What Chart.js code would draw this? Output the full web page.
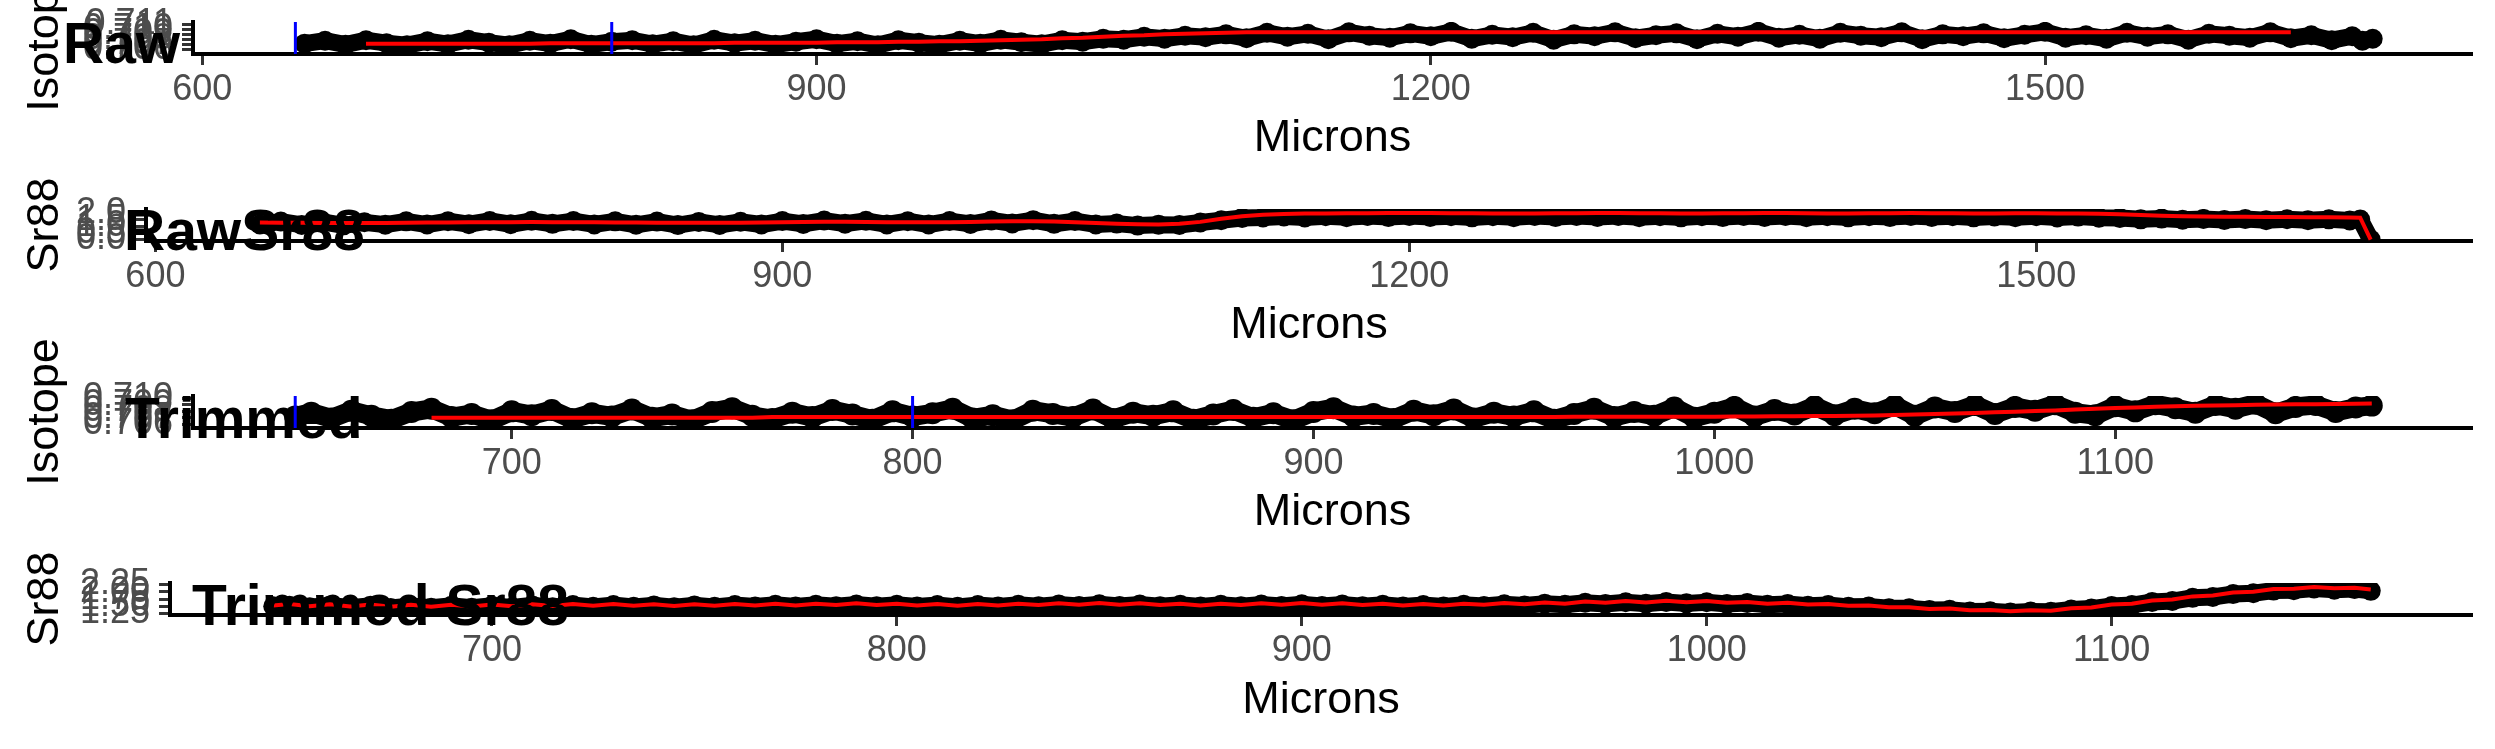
<!DOCTYPE html>
<html>
<head>
<meta charset="utf-8">
<script src="https://cdn.jsdelivr.net/npm/chart.js@4.4.1/dist/chart.umd.min.js"></script>
<style>
  html, body { margin: 0; padding: 0; background: #fff; overflow: hidden; }
  #stack { position: relative; width: 2495px; height: 749px; overflow: hidden; }
  #stack canvas { position: absolute; left: 0; display: block; }
</style>
</head>
<body>
<div id="stack">
  <canvas id="raw"></canvas>
  <canvas id="rawSr"></canvas>
  <canvas id="trim"></canvas>
  <canvas id="trimSr"></canvas>
</div>
<script>
// --- raw transect (microns) ---
const RAW_MICRONS = [
    650, 660, 670, 680, 690, 700, 710, 720, 730, 740,
    750, 760, 770, 780, 790, 800, 810, 820, 830, 840,
    850, 860, 870, 880, 890, 900, 910, 920, 930, 940,
    950, 960, 970, 980, 990, 1000, 1010, 1020, 1030, 1040,
    1050, 1060, 1070, 1080, 1090, 1100, 1110, 1120, 1130, 1140,
    1150, 1160, 1170, 1180, 1190, 1200, 1210, 1220, 1230, 1240,
    1250, 1260, 1270, 1280, 1290, 1300, 1310, 1320, 1330, 1340,
    1350, 1360, 1370, 1380, 1390, 1400, 1410, 1420, 1430, 1440,
    1450, 1460, 1470, 1480, 1490, 1500, 1510, 1520, 1530, 1540,
    1550, 1560, 1570, 1580, 1590, 1600, 1610, 1620, 1630, 1640,
    1650, 1655, 1660
];

const RAW_ISOTOPE = [
    0.7071, 0.7077, 0.7069, 0.7078, 0.7072, 0.7068, 0.7076, 0.7070, 0.7079, 0.7073,
    0.7068, 0.7077, 0.7071, 0.7080, 0.7069, 0.7075, 0.7078, 0.7070, 0.7076, 0.7068,
    0.7079, 0.7072, 0.7077, 0.7069, 0.7075, 0.7080, 0.7071, 0.7076, 0.7068, 0.7078,
    0.7073, 0.7069, 0.7077, 0.7071, 0.7079, 0.7074, 0.7070, 0.7078, 0.7075, 0.7081,
    0.7079, 0.7085, 0.7081, 0.7087, 0.7084, 0.7090, 0.7082, 0.7093, 0.7085, 0.7091,
    0.7080, 0.7094, 0.7087, 0.7083, 0.7092, 0.7086, 0.7095, 0.7081, 0.7089, 0.7084,
    0.7093, 0.7079, 0.7090, 0.7086, 0.7094, 0.7082, 0.7088, 0.7092, 0.7080, 0.7091,
    0.7085, 0.7095, 0.7083, 0.7089, 0.7081, 0.7093, 0.7087, 0.7084, 0.7094, 0.7080,
    0.7090, 0.7086, 0.7092, 0.7082, 0.7089, 0.7095, 0.7083, 0.7088, 0.7081, 0.7093,
    0.7085, 0.7090, 0.7079, 0.7091, 0.7087, 0.7083, 0.7094, 0.7082, 0.7088, 0.7078,
    0.7086, 0.7077, 0.7081
];

const RAW_ISOTOPE_FIT = [
    null, null, null, 0.7071, 0.7071, 0.7071, 0.7071, 0.7071, 0.7071, 0.7071,
    0.7071, 0.7071, 0.7072, 0.7072, 0.7072, 0.7072, 0.7072, 0.7072, 0.7072, 0.7072,
    0.7072, 0.7073, 0.7073, 0.7073, 0.7073, 0.7073, 0.7074, 0.7074, 0.7074, 0.7075,
    0.7075, 0.7076, 0.7076, 0.7077, 0.7078, 0.7079, 0.7080, 0.7082, 0.7083, 0.7085,
    0.7087, 0.7088, 0.7090, 0.7091, 0.7092, 0.7093, 0.7094, 0.7094, 0.7094, 0.7094,
    0.7094, 0.7094, 0.7094, 0.7094, 0.7094, 0.7094, 0.7094, 0.7094, 0.7094, 0.7094,
    0.7094, 0.7094, 0.7094, 0.7094, 0.7094, 0.7094, 0.7094, 0.7094, 0.7094, 0.7094,
    0.7094, 0.7094, 0.7094, 0.7094, 0.7094, 0.7094, 0.7094, 0.7094, 0.7094, 0.7094,
    0.7094, 0.7094, 0.7094, 0.7094, 0.7094, 0.7094, 0.7094, 0.7094, 0.7094, 0.7094,
    0.7094, 0.7094, 0.7094, 0.7094, 0.7094, 0.7094, 0.7094, 0.7094, null, null,
    null, null, null
];

const RAW_SR88 = [
    1.14, 1.36, 1.10, 1.33, 1.07, 1.30, 1.12, 1.37, 1.13, 1.38,
    1.16, 1.40, 1.15, 1.41, 1.18, 1.39, 1.14, 1.37, 1.11, 1.35,
    1.09, 1.33, 1.10, 1.34, 1.13, 1.39, 1.17, 1.43, 1.19, 1.41,
    1.14, 1.38, 1.13, 1.39, 1.17, 1.44, 1.21, 1.46, 1.18, 1.39,
    1.14, 1.20, 1.05, 1.12, 1.10, 1.28, 1.45, 1.62, 1.66, 1.74,
    1.66, 1.76, 1.68, 1.77, 1.69, 1.78, 1.70, 1.76, 1.67, 1.75,
    1.68, 1.77, 1.69, 1.78, 1.70, 1.77, 1.68, 1.76, 1.67, 1.75,
    1.69, 1.78, 1.70, 1.77, 1.68, 1.75, 1.67, 1.76, 1.69, 1.78,
    1.70, 1.76, 1.67, 1.74, 1.68, 1.76, 1.66, 1.73, 1.65, 1.62,
    1.52, 1.58, 1.49, 1.55, 1.47, 1.54, 1.46, 1.53, 1.45, 1.52,
    1.44, 1.50, 0.00
];

const RAW_SR88_FIT = [
    1.28, 1.27, 1.26, 1.25, 1.24, 1.24, 1.25, 1.26, 1.28, 1.29,
    1.30, 1.31, 1.31, 1.32, 1.31, 1.31, 1.30, 1.29, 1.28, 1.27,
    1.26, 1.26, 1.26, 1.27, 1.29, 1.31, 1.33, 1.34, 1.34, 1.33,
    1.31, 1.30, 1.30, 1.31, 1.33, 1.35, 1.37, 1.37, 1.35, 1.31,
    1.25, 1.19, 1.15, 1.14, 1.19, 1.33, 1.56, 1.76, 1.87, 1.93,
    1.96, 1.97, 1.98, 1.98, 1.99, 1.99, 1.99, 1.98, 1.98, 1.97,
    1.97, 1.97, 1.98, 1.98, 1.99, 1.99, 1.98, 1.98, 1.97, 1.97,
    1.98, 1.98, 1.99, 1.99, 1.98, 1.97, 1.97, 1.98, 1.98, 1.99,
    1.98, 1.98, 1.97, 1.97, 1.98, 1.98, 1.97, 1.96, 1.95, 1.90,
    1.85, 1.80, 1.76, 1.74, 1.72, 1.71, 1.70, 1.69, 1.68, 1.67,
    1.66, 1.65, 0.00
];

// --- trimmed transect (microns) ---
const TRIM_MICRONS = [
    646, 650, 655, 660, 665, 670, 675, 680, 685, 690,
    695, 700, 705, 710, 715, 720, 725, 730, 735, 740,
    745, 750, 755, 760, 765, 770, 775, 780, 785, 790,
    795, 800, 805, 810, 815, 820, 825, 830, 835, 840,
    845, 850, 855, 860, 865, 870, 875, 880, 885, 890,
    895, 900, 905, 910, 915, 920, 925, 930, 935, 940,
    945, 950, 955, 960, 965, 970, 975, 980, 985, 990,
    995, 1000, 1005, 1010, 1015, 1020, 1025, 1030, 1035, 1040,
    1045, 1050, 1055, 1060, 1065, 1070, 1075, 1080, 1085, 1090,
    1095, 1100, 1105, 1110, 1115, 1120, 1125, 1130, 1135, 1140,
    1145, 1150, 1155, 1160, 1164
];

const TRIM_ISOTOPE = [
    0.7072, 0.7078, 0.7069, 0.7081, 0.7073, 0.7067, 0.7079, 0.7084, 0.7071, 0.7076,
    0.7066, 0.7080, 0.7074, 0.7082, 0.7068, 0.7077, 0.7072, 0.7083, 0.7070, 0.7075,
    0.7066, 0.7079, 0.7085, 0.7073, 0.7068, 0.7078, 0.7071, 0.7082, 0.7075, 0.7067,
    0.7080, 0.7072, 0.7077, 0.7084, 0.7069, 0.7074, 0.7066, 0.7081, 0.7076, 0.7071,
    0.7083, 0.7068, 0.7078, 0.7073, 0.7080, 0.7067, 0.7075, 0.7082, 0.7070, 0.7077,
    0.7066, 0.7079, 0.7085, 0.7072, 0.7076, 0.7068, 0.7081, 0.7074, 0.7083, 0.7069,
    0.7078, 0.7072, 0.7080, 0.7067, 0.7076, 0.7084, 0.7071, 0.7079, 0.7073, 0.7086,
    0.7070, 0.7078, 0.7087, 0.7072, 0.7082, 0.7075, 0.7088, 0.7074, 0.7084, 0.7077,
    0.7089, 0.7073, 0.7086, 0.7079, 0.7090, 0.7076, 0.7087, 0.7081, 0.7091, 0.7078,
    0.7074, 0.7088, 0.7080, 0.7091, 0.7085, 0.7078, 0.7090, 0.7084, 0.7092, 0.7077,
    0.7087, 0.7090, 0.7079, 0.7086, 0.7089
];

const TRIM_ISOTOPE_FIT = [
    null, null, null, null, null, null, null, 0.7070, 0.7070, 0.7070,
    0.7070, 0.7070, 0.7070, 0.7070, 0.7070, 0.7070, 0.7070, 0.7070, 0.7070, 0.7070,
    0.7070, 0.7070, 0.7070, 0.7070, 0.7071, 0.7071, 0.7071, 0.7071, 0.7071, 0.7071,
    0.7071, 0.7071, 0.7071, 0.7071, 0.7071, 0.7071, 0.7071, 0.7071, 0.7071, 0.7071,
    0.7071, 0.7071, 0.7071, 0.7071, 0.7071, 0.7071, 0.7071, 0.7071, 0.7071, 0.7071,
    0.7071, 0.7071, 0.7071, 0.7071, 0.7071, 0.7071, 0.7071, 0.7071, 0.7071, 0.7071,
    0.70712, 0.70712, 0.70713, 0.70713, 0.70714, 0.70714, 0.70714, 0.70715, 0.70715, 0.70715,
    0.70715, 0.70716, 0.70718, 0.70720, 0.70722, 0.70724, 0.70726, 0.70728, 0.70731, 0.70735,
    0.70742, 0.70750, 0.70758, 0.70766, 0.70775, 0.70785, 0.70795, 0.70805, 0.70815, 0.70828,
    0.70840, 0.70852, 0.70862, 0.70871, 0.70879, 0.70886, 0.70892, 0.70897, 0.70902, 0.70906,
    0.70910, 0.70913, 0.70916, 0.70919, 0.70922
];

const TRIM_SR88 = [
    1.50, 1.52, 1.47, 1.53, 1.45, 1.52, 1.44, 1.51, 1.45, 1.52,
    1.45, 1.52, 1.46, 1.53, 1.47, 1.54, 1.48, 1.54, 1.48, 1.53,
    1.47, 1.53, 1.48, 1.54, 1.49, 1.55, 1.49, 1.55, 1.50, 1.56,
    1.50, 1.55, 1.49, 1.54, 1.48, 1.54, 1.49, 1.55, 1.50, 1.56,
    1.51, 1.57, 1.51, 1.56, 1.50, 1.55, 1.49, 1.55, 1.50, 1.56,
    1.51, 1.57, 1.51, 1.56, 1.50, 1.55, 1.49, 1.54, 1.49, 1.55,
    1.51, 1.57, 1.53, 1.59, 1.55, 1.62, 1.58, 1.64, 1.59, 1.65,
    1.60, 1.64, 1.58, 1.61, 1.55, 1.58, 1.52, 1.54, 1.48, 1.49,
    1.43, 1.43, 1.37, 1.38, 1.32, 1.33, 1.29, 1.32, 1.31, 1.39,
    1.42, 1.51, 1.54, 1.65, 1.68, 1.79, 1.82, 1.92, 1.95, 2.04,
    2.05, 2.11, 2.07, 2.09, 2.03
];

const TRIM_SR88_FIT = [
    1.53, 1.58, 1.50, 1.57, 1.49, 1.56, 1.48, 1.55, 1.48, 1.55,
    1.49, 1.56, 1.50, 1.57, 1.51, 1.58, 1.52, 1.58, 1.52, 1.57,
    1.51, 1.57, 1.52, 1.58, 1.53, 1.59, 1.53, 1.59, 1.54, 1.60,
    1.54, 1.59, 1.53, 1.58, 1.52, 1.58, 1.53, 1.59, 1.54, 1.60,
    1.55, 1.61, 1.55, 1.60, 1.54, 1.59, 1.53, 1.59, 1.54, 1.60,
    1.55, 1.61, 1.55, 1.60, 1.54, 1.59, 1.53, 1.58, 1.53, 1.59,
    1.55, 1.61, 1.57, 1.63, 1.59, 1.66, 1.62, 1.68, 1.63, 1.69,
    1.64, 1.68, 1.62, 1.65, 1.59, 1.62, 1.56, 1.58, 1.52, 1.53,
    1.47, 1.47, 1.41, 1.42, 1.36, 1.37, 1.33, 1.36, 1.35, 1.43,
    1.46, 1.56, 1.59, 1.70, 1.73, 1.84, 1.87, 1.97, 2.00, 2.09,
    2.10, 2.16, 2.12, 2.14, 2.08
];

// vertical markers (microns)
const RAW_MARKERS = [645.5, 800];
const TRIM_MARKERS = [646, 800];

// axis ticks
const RAW_X_TICKS = [600, 900, 1200, 1500];
const TRIM_X_TICKS = [700, 800, 900, 1000, 1100];
const RAW_ISO_TICKS = [0.706, 0.707, 0.708, 0.709, 0.710, 0.711];
const RAW_SR_TICKS = [0.0, 0.5, 1.0, 1.5, 2.0];
const TRIM_ISO_TICKS = [0.706, 0.707, 0.708, 0.709, 0.710];
const TRIM_SR_TICKS = [1.25, 1.50, 1.75, 2.00, 2.25];

const FONT = '"Liberation Sans", Arial, Helvetica, sans-serif';
const EXTRA = 70;       // spare room above each panel so axis titles can spill over
const PLOT_TOP = 22;
const PLOT_H = 32;

function pairs(xs, ys) {
    const out = [];
    xs.forEach((x, i) => {
        if (ys[i] !== null && ys[i] !== undefined) out.push({ x: x, y: ys[i] });
    });
    return out;
}

const panelTitle = {
    id: 'panelTitle',
    afterDraw(chart, args, opts) {
        const ctx = chart.ctx;
        ctx.save();
        ctx.font = 'bold ' + opts.size + 'px ' + FONT;
        ctx.fillStyle = '#000';
        ctx.textBaseline = 'alphabetic';
        ctx.textAlign = 'left';
        ctx.fillText(opts.text, opts.x, opts.y + EXTRA);
        ctx.restore();
    }
};

function axisStyle() {
    return {
        grid: {
            display: true,
            drawOnChartArea: false,
            drawTicks: true,
            tickLength: 11,
            tickColor: '#333333',
            tickWidth: 3
        },
        border: { display: true, color: '#000000', width: 4 }
    };
}

function buildPanel(canvasId, p) {
    const canvas = document.getElementById(canvasId);
    canvas.width = 2495;
    canvas.height = p.height + EXTRA;
    canvas.style.top = (p.top - EXTRA) + 'px';

    const datasets = [
        {
            data: pairs(p.x, p.points),
            showLine: true,
            borderColor: '#000000',
            borderWidth: p.radius * 2 - 3,
            pointRadius: p.radius,
            pointBackgroundColor: '#000000',
            pointBorderWidth: 0,
            clip: 0,
            order: 3
        },
        {
            data: pairs(p.x, p.fit),
            showLine: true,
            borderColor: '#ff0000',
            borderWidth: 4,
            pointRadius: 0,
            clip: 0,
            order: 2
        }
    ];
    (p.markers || []).forEach(m => {
        datasets.push({
            data: [{ x: m, y: p.yMin }, { x: m, y: p.yMax }],
            showLine: true,
            borderColor: '#0000ff',
            borderWidth: 3,
            pointRadius: 0,
            clip: 0,
            order: 1
        });
    });

    const xStyle = axisStyle();
    const yStyle = axisStyle();

    return new Chart(canvas, {
        type: 'scatter',
        data: { datasets: datasets },
        plugins: [panelTitle],
        options: {
            responsive: false,
            animation: false,
            devicePixelRatio: 1,
            layout: { padding: { top: PLOT_TOP + EXTRA, right: 23, bottom: 0, left: 0 } },
            plugins: {
                legend: { display: false },
                tooltip: { enabled: false },
                panelTitle: { text: p.title, x: p.titleX, y: p.titleY, size: 57 }
            },
            scales: {
                x: {
                    type: 'linear',
                    position: 'bottom',
                    min: p.xMin,
                    max: p.xMax,
                    afterBuildTicks: s => { s.ticks = p.xTicks.map(v => ({ value: v })); },
                    afterFit: s => {
                        s.height = p.height - PLOT_TOP - PLOT_H;
                        s.paddingLeft = 0;
                        s.paddingRight = 0;
                    },
                    grid: xStyle.grid,
                    border: xStyle.border,
                    ticks: {
                        font: { family: FONT, size: 36 },
                        color: '#4d4d4d',
                        padding: 3,
                        autoSkip: false,
                        maxRotation: 0,
                        callback: v => String(v)
                    },
                    title: {
                        display: true,
                        text: 'Microns',
                        color: '#000000',
                        font: { family: FONT, size: 45 },
                        padding: { top: 0, bottom: 21 }
                    }
                },
                y: {
                    type: 'linear',
                    position: 'left',
                    min: p.yMin,
                    max: p.yMax,
                    afterBuildTicks: s => { s.ticks = p.yTicks.map(v => ({ value: v })); },
                    afterFit: s => {
                        s.width = p.yAxisWidth;
                        s.paddingTop = 0;
                        s.paddingBottom = 0;
                    },
                    grid: yStyle.grid,
                    border: yStyle.border,
                    ticks: {
                        font: { family: FONT, size: 36 },
                        color: '#4d4d4d',
                        padding: 9,
                        autoSkip: false,
                        callback: v => Number(v).toFixed(p.decimals)
                    },
                    title: {
                        display: true,
                        text: p.yTitle,
                        color: '#000000',
                        font: { family: FONT, size: 45 },
                        padding: { top: 19, bottom: 0 }
                    }
                }
            }
        }
    });
}

buildPanel('raw', {
    x: RAW_MICRONS, points: RAW_ISOTOPE, fit: RAW_ISOTOPE_FIT, markers: RAW_MARKERS,
    xMin: 595.5, xMax: 1708.5, xTicks: RAW_X_TICKS,
    yMin: 0.7050, yMax: 0.7115, yTicks: RAW_ISO_TICKS, decimals: 3,
    yTitle: 'Isotope', yAxisWidth: 193, radius: 10, top: 0, height: 187,
    title: 'Raw', titleX: 63, titleY: 63
});

buildPanel('rawSr', {
    x: RAW_MICRONS, points: RAW_SR88, fit: RAW_SR88_FIT,
    xMin: 595.5, xMax: 1708.5, xTicks: RAW_X_TICKS,
    yMin: -0.11, yMax: 2.3, yTicks: RAW_SR_TICKS, decimals: 1,
    yTitle: 'Sr88', yAxisWidth: 146, radius: 10, top: 187, height: 187,
    title: 'RawSr88', titleX: 124, titleY: 63
});

buildPanel('trim', {
    x: TRIM_MICRONS, points: TRIM_ISOTOPE, fit: TRIM_ISOTOPE_FIT, markers: TRIM_MARKERS,
    xMin: 620.5, xMax: 1189, xTicks: TRIM_X_TICKS,
    yMin: 0.7054, yMax: 0.7104, yTicks: TRIM_ISO_TICKS, decimals: 3,
    yTitle: 'Isotope', yAxisWidth: 193, radius: 11, top: 374, height: 187,
    title: 'Trimmed', titleX: 125, titleY: 64
});

buildPanel('trimSr', {
    x: TRIM_MICRONS, points: TRIM_SR88, fit: TRIM_SR88_FIT,
    xMin: 620.5, xMax: 1189, xTicks: TRIM_X_TICKS,
    yMin: 1.2, yMax: 2.3, yTicks: TRIM_SR_TICKS, decimals: 2,
    yTitle: 'Sr88', yAxisWidth: 170, radius: 10, top: 561, height: 188,
    title: 'Trimmed Sr88', titleX: 192, titleY: 64
});
</script>
</body>
</html>
